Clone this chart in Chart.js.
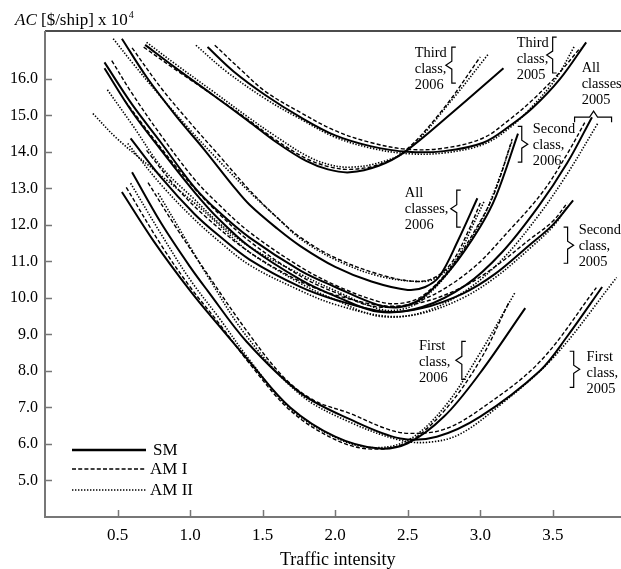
<!DOCTYPE html>
<html>
<head>
<meta charset="utf-8">
<script src="https://cdn.jsdelivr.net/npm/chart.js@4/dist/chart.umd.min.js"></script>
<style>
  html, body { margin: 0; padding: 0; background: #fff; }
  canvas { display: block; }
</style>
</head>
<body>
<canvas id="chart" width="621" height="569"></canvas>
<script>
// =====================
// DATA
// =====================
const xTicks = [0.5, 1.0, 1.5, 2.0, 2.5, 3.0, 3.5];
const yTicks = [5, 6, 7, 8, 9, 10, 11, 12, 13, 14, 15, 16];
const methods = ["SM", "AM I", "AM II"];

// third class, 2005
const third05SM = [[1.12,16.87],[1.3,16.2],[1.52,15.55],[1.76,14.95],[2.0,14.45],[2.25,14.15],[2.5,14.0],[2.75,14.02],[3.02,14.25],[3.2,14.7],[3.36,15.2],[3.55,16.0],[3.73,17.0]];
const third05AM1 = [[1.17,16.92],[1.35,16.25],[1.52,15.65],[1.76,15.08],[2.0,14.58],[2.25,14.25],[2.5,14.07],[2.75,14.1],[3.02,14.38],[3.2,14.88],[3.36,15.42],[3.53,16.1],[3.69,16.85]];
const third05AM2 = [[1.04,16.92],[1.25,16.2],[1.52,15.45],[1.76,14.9],[2.0,14.4],[2.25,14.1],[2.5,13.95],[2.75,13.97],[3.02,14.2],[3.2,14.65],[3.36,15.25],[3.52,16.0],[3.65,16.9]];

// third class, 2006
const third06SM = [[0.69,16.93],[0.9,16.3],[1.16,15.55],[1.4,14.85],[1.6,14.25],[1.8,13.75],[1.95,13.52],[2.1,13.44],[2.3,13.62],[2.48,14.0],[2.8,15.05],[3.16,16.29]];
const third06AM1 = [[0.68,16.87],[0.9,16.25],[1.16,15.55],[1.4,14.88],[1.6,14.3],[1.8,13.82],[1.95,13.6],[2.1,13.52],[2.3,13.65],[2.48,14.02],[2.75,15.2],[3.0,16.6]];
const third06AM2 = [[0.7,17.0],[0.9,16.4],[1.16,15.65],[1.4,14.95],[1.6,14.4],[1.8,13.9],[1.95,13.66],[2.1,13.58],[2.3,13.7],[2.5,14.05],[2.8,15.4],[3.06,16.7]];

// all classes, 2006
const all06SM = [[0.53,17.1],[0.7,16.05],[0.9,15.0],[1.1,14.05],[1.3,13.05],[1.41,12.55],[1.6,11.9],[1.76,11.42],[2.0,10.85],[2.25,10.45],[2.5,10.22],[2.62,10.3],[2.72,10.6],[2.85,11.6],[2.98,12.73]];
const all06AM1 = [[0.6,16.85],[0.8,15.75],[1.0,14.8],[1.2,13.9],[1.41,12.95],[1.6,12.2],[1.76,11.66],[2.0,11.1],[2.3,10.65],[2.55,10.45],[2.68,10.55],[2.8,10.95],[2.92,11.85],[3.0,12.6]];
const all06AM2 = [[0.47,17.1],[0.6,16.45],[0.8,15.5],[1.0,14.6],[1.2,13.75],[1.41,12.9],[1.6,12.2],[1.76,11.62],[2.0,11.05],[2.3,10.6],[2.6,10.45],[2.72,10.6],[2.84,11.1],[2.95,12.0],[3.03,12.67]];

// second class, 2006
const second06SM = [[0.41,16.45],[0.6,15.3],[0.8,14.25],[1.03,13.03],[1.2,12.35],[1.41,11.65],[1.76,10.75],[2.0,10.3],[2.3,9.8],[2.45,9.75],[2.6,10.0],[2.8,10.8],[3.0,11.95],[3.11,12.8],[3.26,14.5]];
const second06AM1 = [[0.46,16.5],[0.6,15.6],[0.8,14.45],[1.03,13.25],[1.2,12.55],[1.41,11.8],[1.76,10.85],[2.0,10.35],[2.3,9.9],[2.45,9.85],[2.6,10.05],[2.8,10.85],[3.0,12.1],[3.1,12.9],[3.22,14.35]];
const second06AM2 = [[0.43,15.7],[0.6,14.75],[0.81,13.55],[1.03,12.7],[1.2,12.05],[1.41,11.4],[1.76,10.65],[2.0,10.2],[2.3,9.7],[2.45,9.68],[2.6,9.95],[2.8,10.8],[3.0,12.05],[3.1,12.95],[3.22,14.3]];

// all classes, 2005
const all05SM = [[0.41,16.29],[0.6,15.1],[0.8,14.05],[1.03,12.9],[1.2,12.15],[1.41,11.4],[1.76,10.5],[2.0,10.05],[2.3,9.62],[2.6,9.75],[2.9,10.35],[3.15,11.25],[3.4,12.5],[3.6,13.7],[3.77,14.95]];
const all05AM1 = [[0.55,15.4],[0.8,14.1],[1.03,13.0],[1.2,12.3],[1.41,11.55],[1.76,10.6],[2.0,10.15],[2.3,9.75],[2.6,9.95],[2.93,10.75],[3.2,11.85],[3.43,12.9],[3.6,13.95],[3.72,14.8]];
const all05AM2 = [[0.33,15.05],[0.5,14.35],[0.8,13.35],[1.03,12.6],[1.2,12.0],[1.41,11.25],[1.76,10.4],[2.0,9.95],[2.3,9.5],[2.6,9.6],[2.9,10.2],[3.15,11.05],[3.4,12.25],[3.6,13.4],[3.81,14.78]];

// second class, 2005
const second05SM = [[0.59,14.37],[0.8,13.3],[1.03,12.3],[1.2,11.7],[1.41,11.05],[1.76,10.3],[2.0,9.95],[2.35,9.62],[2.6,9.72],[2.88,10.12],[3.1,10.65],[3.34,11.45],[3.5,12.0],[3.64,12.67]];
const second05AM1 = [[0.7,14.04],[0.9,13.05],[1.1,12.25],[1.41,11.25],[1.76,10.45],[2.0,10.08],[2.35,9.78],[2.6,9.88],[2.88,10.3],[3.1,10.85],[3.34,11.6],[3.5,12.1],[3.6,12.6]];
const second05AM2 = [[0.57,14.23],[0.8,13.1],[1.03,12.15],[1.2,11.55],[1.41,10.9],[1.76,10.2],[2.0,9.82],[2.35,9.5],[2.6,9.58],[2.88,10.0],[3.1,10.55],[3.34,11.35],[3.5,11.95],[3.6,12.5]];

// first class, 2006
const first06SM = [[0.53,12.9],[0.75,11.55],[1.0,10.2],[1.19,9.28],[1.41,8.25],[1.69,7.0],[2.0,6.2],[2.29,5.88],[2.5,6.02],[2.75,6.75],[3.0,7.95],[3.31,9.72]];
const first06AM1 = [[0.56,13.03],[0.8,11.45],[1.0,10.3],[1.2,9.3],[1.41,8.2],[1.69,6.92],[2.0,6.12],[2.25,5.86],[2.5,6.05],[2.75,6.9],[3.0,8.3],[3.2,9.9]];
const first06AM2 = [[0.59,13.14],[0.8,11.75],[1.0,10.5],[1.2,9.45],[1.41,8.3],[1.69,6.97],[2.0,6.18],[2.25,5.9],[2.5,6.1],[2.75,7.0],[3.0,8.5],[3.24,10.15]];

// first class, 2005
const first05SM = [[0.6,13.44],[0.8,12.05],[1.0,10.85],[1.12,10.2],[1.39,8.8],[1.76,7.4],[2.1,6.68],[2.45,6.15],[2.7,6.2],[3.0,6.75],[3.41,8.0],[3.6,8.95],[3.84,10.3]];
const first05AM1 = [[0.71,13.16],[0.9,11.95],[1.12,10.65],[1.39,9.1],[1.64,7.85],[1.85,7.2],[2.1,6.84],[2.35,6.42],[2.51,6.29],[2.75,6.4],[3.0,6.95],[3.41,8.25],[3.8,10.28]];
const first05AM2 = [[0.78,12.87],[1.0,11.4],[1.12,10.6],[1.39,8.95],[1.76,7.35],[2.1,6.6],[2.45,6.1],[2.65,6.05],[2.85,6.25],[3.1,6.95],[3.5,8.35],[3.94,10.56]];

const curves = [
  [third05SM, "SM"], [third05AM1, "AM I"], [third05AM2, "AM II"],
  [third06SM, "SM"], [third06AM1, "AM I"], [third06AM2, "AM II"],
  [all06SM, "SM"], [all06AM1, "AM I"], [all06AM2, "AM II"],
  [second06SM, "SM"], [second06AM1, "AM I"], [second06AM2, "AM II"],
  [all05SM, "SM"], [all05AM1, "AM I"], [all05AM2, "AM II"],
  [second05SM, "SM"], [second05AM1, "AM I"], [second05AM2, "AM II"],
  [first06SM, "SM"], [first06AM1, "AM I"], [first06AM2, "AM II"],
  [first05SM, "SM"], [first05AM1, "AM I"], [first05AM2, "AM II"]
];

// group labels: text lines, text anchor, brace
const groupLabels = [
  { lines: ["Third", "class,", "2006"], x: 2.549, y: 16.70, brace: { x: 2.804, y1: 16.87, y2: 15.88, dir: -1 } },
  { lines: ["Third", "class,", "2005"], x: 3.251, y: 16.98, brace: { x: 3.499, y1: 17.14, y2: 16.16, dir: -1 } },
  { lines: ["All", "classes", "2005"], x: 3.699, y: 16.29, over: { x1: 3.65, x2: 3.905, xt: 3.781, y: 14.95 } },
  { lines: ["Second", "class,", "2006"], x: 3.362, y: 14.62, brace: { x: 3.286, y1: 14.70, y2: 13.72, dir: 1 } },
  { lines: ["All", "classes,", "2006"], x: 2.48, y: 12.87, brace: { x: 2.838, y1: 12.95, y2: 11.94, dir: -1 } },
  { lines: ["Second", "class,", "2005"], x: 3.678, y: 11.855, brace: { x: 3.602, y1: 11.94, y2: 10.95, dir: 1 } },
  { lines: ["First", "class,", "2006"], x: 2.577, y: 8.68, brace: { x: 2.873, y1: 8.81, y2: 7.77, dir: -1 } },
  { lines: ["First", "class,", "2005"], x: 3.733, y: 8.375, brace: { x: 3.644, y1: 8.54, y2: 7.55, dir: 1 } }
];

// =====================
// STYLES
// =====================
const SERIF = '"Liberation Serif", "Times New Roman", serif';
const lineStyle = {
  "SM":    { width: 2,   dash: [] },
  "AM I":  { width: 1.4, dash: [4, 2.2] },
  "AM II": { width: 1.6, dash: [1.4, 1.6] }
};

// =====================
// DECORATION PLUGIN
// =====================
function drawBrace(ctx, x, y1, y2, dir) {
  const mid = (y1 + y2) / 2;
  ctx.beginPath();
  ctx.moveTo(x - dir * 4, y1);
  ctx.lineTo(x, y1);
  ctx.lineTo(x, mid - 4);
  ctx.lineTo(x + dir * 6, mid);
  ctx.lineTo(x, mid + 4);
  ctx.lineTo(x, y2);
  ctx.lineTo(x - dir * 4, y2);
  ctx.stroke();
}

const decor = {
  id: "decor",
  afterDraw(chart) {
    const { ctx, chartArea: a, scales: { x, y } } = chart;
    ctx.save();

    // frame
    ctx.strokeStyle = "#111";
    ctx.lineWidth = 1.5;
    ctx.beginPath();
    ctx.moveTo(a.left, a.top);
    ctx.lineTo(a.right, a.top);
    ctx.stroke();

    ctx.strokeStyle = "#777";
    ctx.lineWidth = 2;
    ctx.beginPath();
    ctx.moveTo(a.left, a.top);
    ctx.lineTo(a.left, a.bottom);
    ctx.lineTo(a.right, a.bottom);
    ctx.stroke();

    // inward ticks
    ctx.lineWidth = 1.5;
    ctx.beginPath();
    xTicks.forEach(v => {
      const px = Math.round(x.getPixelForValue(v)) + 0.5;
      ctx.moveTo(px, a.bottom);
      ctx.lineTo(px, a.bottom - 7);
    });
    yTicks.forEach(v => {
      const py = Math.round(y.getPixelForValue(v)) + 0.5;
      ctx.moveTo(a.left, py);
      ctx.lineTo(a.left + 7, py);
    });
    ctx.stroke();

    // axis titles
    ctx.fillStyle = "#000";
    ctx.textBaseline = "alphabetic";
    ctx.textAlign = "left";
    ctx.font = "italic 17px " + SERIF;
    ctx.fillText("AC", 15, 25);
    let tx = 15 + ctx.measureText("AC").width;
    ctx.font = "17px " + SERIF;
    ctx.fillText(" [$/ship] x 10", tx, 25);
    tx += ctx.measureText(" [$/ship] x 10").width;
    ctx.font = "10px " + SERIF;
    ctx.fillText("4", tx + 1, 18);

    ctx.font = "18px " + SERIF;
    ctx.fillText("Traffic intensity", 280, 565);

    // group labels
    ctx.font = "14.4px " + SERIF;
    ctx.textBaseline = "middle";
    ctx.strokeStyle = "#000";
    ctx.lineWidth = 1.2;
    groupLabels.forEach(g => {
      const px = x.getPixelForValue(g.x);
      const py = y.getPixelForValue(g.y);
      g.lines.forEach((t, i) => ctx.fillText(t, px, py + i * 16));
      if (g.brace) {
        const b = g.brace;
        drawBrace(ctx, x.getPixelForValue(b.x), y.getPixelForValue(b.y1), y.getPixelForValue(b.y2), b.dir);
      }
      if (g.over) {
        const o = g.over;
        const x1 = x.getPixelForValue(o.x1), x2 = x.getPixelForValue(o.x2);
        const xt = x.getPixelForValue(o.xt), yy = y.getPixelForValue(o.y);
        ctx.beginPath();
        ctx.moveTo(x1, yy + 5);
        ctx.lineTo(x1, yy);
        ctx.lineTo(xt - 4, yy);
        ctx.lineTo(xt, yy - 6);
        ctx.lineTo(xt + 4, yy);
        ctx.lineTo(x2, yy);
        ctx.lineTo(x2, yy + 5);
        ctx.stroke();
      }
    });

    // legend
    ctx.font = "17px " + SERIF;
    methods.forEach((m, i) => {
      const ly = a.top + 419 + [0, 19, 40][i];
      const st = lineStyle[m];
      ctx.strokeStyle = "#000";
      ctx.lineWidth = m === "SM" ? 2.5 : st.width;
      ctx.setLineDash(st.dash);
      ctx.beginPath();
      ctx.moveTo(a.left + 27, ly);
      ctx.lineTo(a.left + 101, ly);
      ctx.stroke();
      ctx.setLineDash([]);
      ctx.fillText(m, a.left + 105 + (m === "SM" ? 3 : 0), ly + 1);
    });

    ctx.restore();
  }
};

// =====================
// CHART
// =====================
const datasets = curves.map(([pts, m]) => ({
  label: m,
  data: pts.map(([px, py]) => ({ x: px, y: py })),
  borderColor: "#000",
  borderWidth: lineStyle[m].width,
  borderDash: lineStyle[m].dash,
  pointRadius: 0,
  fill: false,
  tension: 0.35
}));

new Chart(document.getElementById("chart"), {
  type: "line",
  data: { datasets },
  options: {
    responsive: false,
    animation: false,
    layout: { padding: { top: 31, left: 0, right: 0, bottom: 0 } },
    plugins: { legend: { display: false }, tooltip: { enabled: false } },
    scales: {
      x: {
        type: "linear",
        min: 0,
        max: 3.97,
        afterBuildTicks: s => { s.ticks = xTicks.map(v => ({ value: v })); },
        afterFit: s => { s.height = 52; },
        grid: { display: false, drawTicks: false },
        border: { display: false },
        ticks: {
          padding: 8,
          color: "#000",
          maxRotation: 0,
          autoSkip: false,
          font: { family: SERIF, size: 17 },
          callback: v => v.toFixed(1)
        }
      },
      y: {
        type: "linear",
        min: 4,
        max: 17.31,
        afterBuildTicks: s => { s.ticks = yTicks.map(v => ({ value: v })); },
        afterFit: s => { s.width = 45; },
        grid: { display: false, drawTicks: false },
        border: { display: false },
        ticks: {
          padding: 7,
          color: "#000",
          autoSkip: false,
          font: { family: SERIF, size: 16 },
          callback: v => v.toFixed(1)
        }
      }
    }
  },
  plugins: [decor]
});
</script>
</body>
</html>
